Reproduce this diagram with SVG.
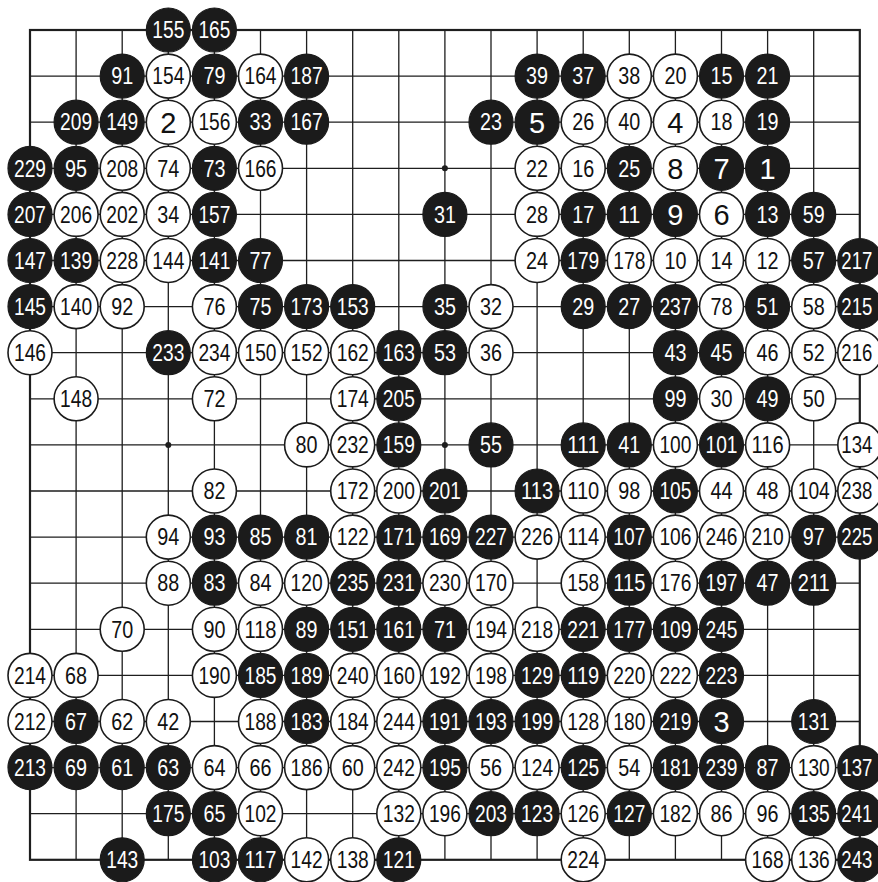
<svg xmlns="http://www.w3.org/2000/svg" width="878" height="882" viewBox="0 0 878 882">
<style>
.grid{fill:none;stroke:#1e1e1e;stroke-width:1.3}
.edge{fill:none;stroke:#1e1e1e;stroke-width:2.2}
.hoshi{fill:#1e1e1e}
text{font-family:"Liberation Sans",Arial,sans-serif;font-size:23px;text-anchor:middle}
.b circle{fill:#1b1b1b;stroke:#1b1b1b;stroke-width:1.2}
.b text{fill:#fff}
.w circle{fill:#fff;stroke:#1b1b1b;stroke-width:1.6}
.w text{fill:#111}
text.one{font-size:29px}
</style>
<rect width="878" height="882" fill="#fff"/>
<g id="board">
<path class="grid" d="M30 76.1H859.8M30 122.2H859.8M30 168.3H859.8M30 214.4H859.8M30 260.5H859.8M30 306.6H859.8M30 352.7H859.8M30 398.8H859.8M30 444.9H859.8M30 491H859.8M30 537.1H859.8M30 583.2H859.8M30 629.3H859.8M30 675.4H859.8M30 721.5H859.8M30 767.6H859.8M30 813.7H859.8M76.1 30V859.8M122.2 30V859.8M168.3 30V859.8M214.4 30V859.8M260.5 30V859.8M306.6 30V859.8M352.7 30V859.8M398.8 30V859.8M444.9 30V859.8M491 30V859.8M537.1 30V859.8M583.2 30V859.8M629.3 30V859.8M675.4 30V859.8M721.5 30V859.8M767.6 30V859.8M813.7 30V859.8"/>
<rect class="edge" x="30" y="30" width="829.8" height="829.8"/>
<circle class="hoshi" cx="444.9" cy="168.3" r="3"/>
<circle class="hoshi" cx="168.3" cy="444.9" r="3"/>
<circle class="hoshi" cx="444.9" cy="444.9" r="3"/>
</g>
<g id="stones">
<g id="m155" class="b" transform="translate(168.3,30)"><circle r="22"/><text y="8.2" textLength="32" lengthAdjust="spacingAndGlyphs">155</text></g>
<g id="m165" class="b" transform="translate(214.4,30)"><circle r="22"/><text y="8.2" textLength="32" lengthAdjust="spacingAndGlyphs">165</text></g>

<g id="m91" class="b" transform="translate(122.2,76.1)"><circle r="22"/><text y="8.2" textLength="22" lengthAdjust="spacingAndGlyphs">91</text></g>
<g id="m154" class="w" transform="translate(168.3,76.1)"><circle r="22"/><text y="8.2" textLength="32" lengthAdjust="spacingAndGlyphs">154</text></g>
<g id="m79" class="b" transform="translate(214.4,76.1)"><circle r="22"/><text y="8.2" textLength="22" lengthAdjust="spacingAndGlyphs">79</text></g>
<g id="m164" class="w" transform="translate(260.5,76.1)"><circle r="22"/><text y="8.2" textLength="32" lengthAdjust="spacingAndGlyphs">164</text></g>
<g id="m187" class="b" transform="translate(306.6,76.1)"><circle r="22"/><text y="8.2" textLength="32" lengthAdjust="spacingAndGlyphs">187</text></g>
<g id="m39" class="b" transform="translate(537.1,76.1)"><circle r="22"/><text y="8.2" textLength="22" lengthAdjust="spacingAndGlyphs">39</text></g>
<g id="m37" class="b" transform="translate(583.2,76.1)"><circle r="22"/><text y="8.2" textLength="22" lengthAdjust="spacingAndGlyphs">37</text></g>
<g id="m38" class="w" transform="translate(629.3,76.1)"><circle r="22"/><text y="8.2" textLength="22" lengthAdjust="spacingAndGlyphs">38</text></g>
<g id="m20" class="w" transform="translate(675.4,76.1)"><circle r="22"/><text y="8.2" textLength="22" lengthAdjust="spacingAndGlyphs">20</text></g>
<g id="m15" class="b" transform="translate(721.5,76.1)"><circle r="22"/><text y="8.2" textLength="22" lengthAdjust="spacingAndGlyphs">15</text></g>
<g id="m21" class="b" transform="translate(767.6,76.1)"><circle r="22"/><text y="8.2" textLength="22" lengthAdjust="spacingAndGlyphs">21</text></g>

<g id="m209" class="b" transform="translate(76.1,122.2)"><circle r="22"/><text y="8.2" textLength="32" lengthAdjust="spacingAndGlyphs">209</text></g>
<g id="m149" class="b" transform="translate(122.2,122.2)"><circle r="22"/><text y="8.2" textLength="32" lengthAdjust="spacingAndGlyphs">149</text></g>
<g id="m2" class="w" transform="translate(168.3,122.2)"><circle r="22"/><text class="one" y="10.4">2</text></g>
<g id="m156" class="w" transform="translate(214.4,122.2)"><circle r="22"/><text y="8.2" textLength="32" lengthAdjust="spacingAndGlyphs">156</text></g>
<g id="m33" class="b" transform="translate(260.5,122.2)"><circle r="22"/><text y="8.2" textLength="22" lengthAdjust="spacingAndGlyphs">33</text></g>
<g id="m167" class="b" transform="translate(306.6,122.2)"><circle r="22"/><text y="8.2" textLength="32" lengthAdjust="spacingAndGlyphs">167</text></g>
<g id="m23" class="b" transform="translate(491,122.2)"><circle r="22"/><text y="8.2" textLength="22" lengthAdjust="spacingAndGlyphs">23</text></g>
<g id="m5" class="b" transform="translate(537.1,122.2)"><circle r="22"/><text class="one" y="10.4">5</text></g>
<g id="m26" class="w" transform="translate(583.2,122.2)"><circle r="22"/><text y="8.2" textLength="22" lengthAdjust="spacingAndGlyphs">26</text></g>
<g id="m40" class="w" transform="translate(629.3,122.2)"><circle r="22"/><text y="8.2" textLength="22" lengthAdjust="spacingAndGlyphs">40</text></g>
<g id="m4" class="w" transform="translate(675.4,122.2)"><circle r="22"/><text class="one" y="10.4">4</text></g>
<g id="m18" class="w" transform="translate(721.5,122.2)"><circle r="22"/><text y="8.2" textLength="22" lengthAdjust="spacingAndGlyphs">18</text></g>
<g id="m19" class="b" transform="translate(767.6,122.2)"><circle r="22"/><text y="8.2" textLength="22" lengthAdjust="spacingAndGlyphs">19</text></g>

<g id="m229" class="b" transform="translate(30,168.3)"><circle r="22"/><text y="8.2" textLength="32" lengthAdjust="spacingAndGlyphs">229</text></g>
<g id="m95" class="b" transform="translate(76.1,168.3)"><circle r="22"/><text y="8.2" textLength="22" lengthAdjust="spacingAndGlyphs">95</text></g>
<g id="m208" class="w" transform="translate(122.2,168.3)"><circle r="22"/><text y="8.2" textLength="32" lengthAdjust="spacingAndGlyphs">208</text></g>
<g id="m74" class="w" transform="translate(168.3,168.3)"><circle r="22"/><text y="8.2" textLength="22" lengthAdjust="spacingAndGlyphs">74</text></g>
<g id="m73" class="b" transform="translate(214.4,168.3)"><circle r="22"/><text y="8.2" textLength="22" lengthAdjust="spacingAndGlyphs">73</text></g>
<g id="m166" class="w" transform="translate(260.5,168.3)"><circle r="22"/><text y="8.2" textLength="32" lengthAdjust="spacingAndGlyphs">166</text></g>
<g id="m22" class="w" transform="translate(537.1,168.3)"><circle r="22"/><text y="8.2" textLength="22" lengthAdjust="spacingAndGlyphs">22</text></g>
<g id="m16" class="w" transform="translate(583.2,168.3)"><circle r="22"/><text y="8.2" textLength="22" lengthAdjust="spacingAndGlyphs">16</text></g>
<g id="m25" class="b" transform="translate(629.3,168.3)"><circle r="22"/><text y="8.2" textLength="22" lengthAdjust="spacingAndGlyphs">25</text></g>
<g id="m8" class="w" transform="translate(675.4,168.3)"><circle r="22"/><text class="one" y="10.4">8</text></g>
<g id="m7" class="b" transform="translate(721.5,168.3)"><circle r="22"/><text class="one" y="10.4">7</text></g>
<g id="m1" class="b" transform="translate(767.6,168.3)"><circle r="22"/><text class="one" y="10.4">1</text></g>

<g id="m207" class="b" transform="translate(30,214.4)"><circle r="22"/><text y="8.2" textLength="32" lengthAdjust="spacingAndGlyphs">207</text></g>
<g id="m206" class="w" transform="translate(76.1,214.4)"><circle r="22"/><text y="8.2" textLength="32" lengthAdjust="spacingAndGlyphs">206</text></g>
<g id="m202" class="w" transform="translate(122.2,214.4)"><circle r="22"/><text y="8.2" textLength="32" lengthAdjust="spacingAndGlyphs">202</text></g>
<g id="m34" class="w" transform="translate(168.3,214.4)"><circle r="22"/><text y="8.2" textLength="22" lengthAdjust="spacingAndGlyphs">34</text></g>
<g id="m157" class="b" transform="translate(214.4,214.4)"><circle r="22"/><text y="8.2" textLength="32" lengthAdjust="spacingAndGlyphs">157</text></g>
<g id="m31" class="b" transform="translate(444.9,214.4)"><circle r="22"/><text y="8.2" textLength="22" lengthAdjust="spacingAndGlyphs">31</text></g>
<g id="m28" class="w" transform="translate(537.1,214.4)"><circle r="22"/><text y="8.2" textLength="22" lengthAdjust="spacingAndGlyphs">28</text></g>
<g id="m17" class="b" transform="translate(583.2,214.4)"><circle r="22"/><text y="8.2" textLength="22" lengthAdjust="spacingAndGlyphs">17</text></g>
<g id="m11" class="b" transform="translate(629.3,214.4)"><circle r="22"/><text y="8.2" textLength="22" lengthAdjust="spacingAndGlyphs">11</text></g>
<g id="m9" class="b" transform="translate(675.4,214.4)"><circle r="22"/><text class="one" y="10.4">9</text></g>
<g id="m6" class="w" transform="translate(721.5,214.4)"><circle r="22"/><text class="one" y="10.4">6</text></g>
<g id="m13" class="b" transform="translate(767.6,214.4)"><circle r="22"/><text y="8.2" textLength="22" lengthAdjust="spacingAndGlyphs">13</text></g>
<g id="m59" class="b" transform="translate(813.7,214.4)"><circle r="22"/><text y="8.2" textLength="22" lengthAdjust="spacingAndGlyphs">59</text></g>

<g id="m147" class="b" transform="translate(30,260.5)"><circle r="22"/><text y="8.2" textLength="32" lengthAdjust="spacingAndGlyphs">147</text></g>
<g id="m139" class="b" transform="translate(76.1,260.5)"><circle r="22"/><text y="8.2" textLength="32" lengthAdjust="spacingAndGlyphs">139</text></g>
<g id="m228" class="w" transform="translate(122.2,260.5)"><circle r="22"/><text y="8.2" textLength="32" lengthAdjust="spacingAndGlyphs">228</text></g>
<g id="m144" class="w" transform="translate(168.3,260.5)"><circle r="22"/><text y="8.2" textLength="32" lengthAdjust="spacingAndGlyphs">144</text></g>
<g id="m141" class="b" transform="translate(214.4,260.5)"><circle r="22"/><text y="8.2" textLength="32" lengthAdjust="spacingAndGlyphs">141</text></g>
<g id="m77" class="b" transform="translate(260.5,260.5)"><circle r="22"/><text y="8.2" textLength="22" lengthAdjust="spacingAndGlyphs">77</text></g>
<g id="m24" class="w" transform="translate(537.1,260.5)"><circle r="22"/><text y="8.2" textLength="22" lengthAdjust="spacingAndGlyphs">24</text></g>
<g id="m179" class="b" transform="translate(583.2,260.5)"><circle r="22"/><text y="8.2" textLength="32" lengthAdjust="spacingAndGlyphs">179</text></g>
<g id="m178" class="w" transform="translate(629.3,260.5)"><circle r="22"/><text y="8.2" textLength="32" lengthAdjust="spacingAndGlyphs">178</text></g>
<g id="m10" class="w" transform="translate(675.4,260.5)"><circle r="22"/><text y="8.2" textLength="22" lengthAdjust="spacingAndGlyphs">10</text></g>
<g id="m14" class="w" transform="translate(721.5,260.5)"><circle r="22"/><text y="8.2" textLength="22" lengthAdjust="spacingAndGlyphs">14</text></g>
<g id="m12" class="w" transform="translate(767.6,260.5)"><circle r="22"/><text y="8.2" textLength="22" lengthAdjust="spacingAndGlyphs">12</text></g>
<g id="m57" class="b" transform="translate(813.7,260.5)"><circle r="22"/><text y="8.2" textLength="22" lengthAdjust="spacingAndGlyphs">57</text></g>
<g id="m217" class="b" transform="translate(859.8,260.5)"><circle r="22"/><text x="-3" y="8.2" textLength="31" lengthAdjust="spacingAndGlyphs">217</text></g>

<g id="m145" class="b" transform="translate(30,306.6)"><circle r="22"/><text y="8.2" textLength="32" lengthAdjust="spacingAndGlyphs">145</text></g>
<g id="m140" class="w" transform="translate(76.1,306.6)"><circle r="22"/><text y="8.2" textLength="32" lengthAdjust="spacingAndGlyphs">140</text></g>
<g id="m92" class="w" transform="translate(122.2,306.6)"><circle r="22"/><text y="8.2" textLength="22" lengthAdjust="spacingAndGlyphs">92</text></g>
<g id="m76" class="w" transform="translate(214.4,306.6)"><circle r="22"/><text y="8.2" textLength="22" lengthAdjust="spacingAndGlyphs">76</text></g>
<g id="m75" class="b" transform="translate(260.5,306.6)"><circle r="22"/><text y="8.2" textLength="22" lengthAdjust="spacingAndGlyphs">75</text></g>
<g id="m173" class="b" transform="translate(306.6,306.6)"><circle r="22"/><text y="8.2" textLength="32" lengthAdjust="spacingAndGlyphs">173</text></g>
<g id="m153" class="b" transform="translate(352.7,306.6)"><circle r="22"/><text y="8.2" textLength="32" lengthAdjust="spacingAndGlyphs">153</text></g>
<g id="m35" class="b" transform="translate(444.9,306.6)"><circle r="22"/><text y="8.2" textLength="22" lengthAdjust="spacingAndGlyphs">35</text></g>
<g id="m32" class="w" transform="translate(491,306.6)"><circle r="22"/><text y="8.2" textLength="22" lengthAdjust="spacingAndGlyphs">32</text></g>
<g id="m29" class="b" transform="translate(583.2,306.6)"><circle r="22"/><text y="8.2" textLength="22" lengthAdjust="spacingAndGlyphs">29</text></g>
<g id="m27" class="b" transform="translate(629.3,306.6)"><circle r="22"/><text y="8.2" textLength="22" lengthAdjust="spacingAndGlyphs">27</text></g>
<g id="m237" class="b" transform="translate(675.4,306.6)"><circle r="22"/><text y="8.2" textLength="32" lengthAdjust="spacingAndGlyphs">237</text></g>
<g id="m78" class="w" transform="translate(721.5,306.6)"><circle r="22"/><text y="8.2" textLength="22" lengthAdjust="spacingAndGlyphs">78</text></g>
<g id="m51" class="b" transform="translate(767.6,306.6)"><circle r="22"/><text y="8.2" textLength="22" lengthAdjust="spacingAndGlyphs">51</text></g>
<g id="m58" class="w" transform="translate(813.7,306.6)"><circle r="22"/><text y="8.2" textLength="22" lengthAdjust="spacingAndGlyphs">58</text></g>
<g id="m215" class="b" transform="translate(859.8,306.6)"><circle r="22"/><text x="-3" y="8.2" textLength="31" lengthAdjust="spacingAndGlyphs">215</text></g>

<g id="m146" class="w" transform="translate(30,352.7)"><circle r="22"/><text y="8.2" textLength="32" lengthAdjust="spacingAndGlyphs">146</text></g>
<g id="m233" class="b" transform="translate(168.3,352.7)"><circle r="22"/><text y="8.2" textLength="32" lengthAdjust="spacingAndGlyphs">233</text></g>
<g id="m234" class="w" transform="translate(214.4,352.7)"><circle r="22"/><text y="8.2" textLength="32" lengthAdjust="spacingAndGlyphs">234</text></g>
<g id="m150" class="w" transform="translate(260.5,352.7)"><circle r="22"/><text y="8.2" textLength="32" lengthAdjust="spacingAndGlyphs">150</text></g>
<g id="m152" class="w" transform="translate(306.6,352.7)"><circle r="22"/><text y="8.2" textLength="32" lengthAdjust="spacingAndGlyphs">152</text></g>
<g id="m162" class="w" transform="translate(352.7,352.7)"><circle r="22"/><text y="8.2" textLength="32" lengthAdjust="spacingAndGlyphs">162</text></g>
<g id="m163" class="b" transform="translate(398.8,352.7)"><circle r="22"/><text y="8.2" textLength="32" lengthAdjust="spacingAndGlyphs">163</text></g>
<g id="m53" class="b" transform="translate(444.9,352.7)"><circle r="22"/><text y="8.2" textLength="22" lengthAdjust="spacingAndGlyphs">53</text></g>
<g id="m36" class="w" transform="translate(491,352.7)"><circle r="22"/><text y="8.2" textLength="22" lengthAdjust="spacingAndGlyphs">36</text></g>
<g id="m43" class="b" transform="translate(675.4,352.7)"><circle r="22"/><text y="8.2" textLength="22" lengthAdjust="spacingAndGlyphs">43</text></g>
<g id="m45" class="b" transform="translate(721.5,352.7)"><circle r="22"/><text y="8.2" textLength="22" lengthAdjust="spacingAndGlyphs">45</text></g>
<g id="m46" class="w" transform="translate(767.6,352.7)"><circle r="22"/><text y="8.2" textLength="22" lengthAdjust="spacingAndGlyphs">46</text></g>
<g id="m52" class="w" transform="translate(813.7,352.7)"><circle r="22"/><text y="8.2" textLength="22" lengthAdjust="spacingAndGlyphs">52</text></g>
<g id="m216" class="w" transform="translate(859.8,352.7)"><circle r="22"/><text x="-3" y="8.2" textLength="31" lengthAdjust="spacingAndGlyphs">216</text></g>

<g id="m148" class="w" transform="translate(76.1,398.8)"><circle r="22"/><text y="8.2" textLength="32" lengthAdjust="spacingAndGlyphs">148</text></g>
<g id="m72" class="w" transform="translate(214.4,398.8)"><circle r="22"/><text y="8.2" textLength="22" lengthAdjust="spacingAndGlyphs">72</text></g>
<g id="m174" class="w" transform="translate(352.7,398.8)"><circle r="22"/><text y="8.2" textLength="32" lengthAdjust="spacingAndGlyphs">174</text></g>
<g id="m205" class="b" transform="translate(398.8,398.8)"><circle r="22"/><text y="8.2" textLength="32" lengthAdjust="spacingAndGlyphs">205</text></g>
<g id="m99" class="b" transform="translate(675.4,398.8)"><circle r="22"/><text y="8.2" textLength="22" lengthAdjust="spacingAndGlyphs">99</text></g>
<g id="m30" class="w" transform="translate(721.5,398.8)"><circle r="22"/><text y="8.2" textLength="22" lengthAdjust="spacingAndGlyphs">30</text></g>
<g id="m49" class="b" transform="translate(767.6,398.8)"><circle r="22"/><text y="8.2" textLength="22" lengthAdjust="spacingAndGlyphs">49</text></g>
<g id="m50" class="w" transform="translate(813.7,398.8)"><circle r="22"/><text y="8.2" textLength="22" lengthAdjust="spacingAndGlyphs">50</text></g>

<g id="m80" class="w" transform="translate(306.6,444.9)"><circle r="22"/><text y="8.2" textLength="22" lengthAdjust="spacingAndGlyphs">80</text></g>
<g id="m232" class="w" transform="translate(352.7,444.9)"><circle r="22"/><text y="8.2" textLength="32" lengthAdjust="spacingAndGlyphs">232</text></g>
<g id="m159" class="b" transform="translate(398.8,444.9)"><circle r="22"/><text y="8.2" textLength="32" lengthAdjust="spacingAndGlyphs">159</text></g>
<g id="m55" class="b" transform="translate(491,444.9)"><circle r="22"/><text y="8.2" textLength="22" lengthAdjust="spacingAndGlyphs">55</text></g>
<g id="m111" class="b" transform="translate(583.2,444.9)"><circle r="22"/><text y="8.2" textLength="32" lengthAdjust="spacingAndGlyphs">111</text></g>
<g id="m41" class="b" transform="translate(629.3,444.9)"><circle r="22"/><text y="8.2" textLength="22" lengthAdjust="spacingAndGlyphs">41</text></g>
<g id="m100" class="w" transform="translate(675.4,444.9)"><circle r="22"/><text y="8.2" textLength="32" lengthAdjust="spacingAndGlyphs">100</text></g>
<g id="m101" class="b" transform="translate(721.5,444.9)"><circle r="22"/><text y="8.2" textLength="32" lengthAdjust="spacingAndGlyphs">101</text></g>
<g id="m116" class="w" transform="translate(767.6,444.9)"><circle r="22"/><text y="8.2" textLength="32" lengthAdjust="spacingAndGlyphs">116</text></g>
<g id="m134" class="w" transform="translate(859.8,444.9)"><circle r="22"/><text x="-3" y="8.2" textLength="31" lengthAdjust="spacingAndGlyphs">134</text></g>

<g id="m82" class="w" transform="translate(214.4,491)"><circle r="22"/><text y="8.2" textLength="22" lengthAdjust="spacingAndGlyphs">82</text></g>
<g id="m172" class="w" transform="translate(352.7,491)"><circle r="22"/><text y="8.2" textLength="32" lengthAdjust="spacingAndGlyphs">172</text></g>
<g id="m200" class="w" transform="translate(398.8,491)"><circle r="22"/><text y="8.2" textLength="32" lengthAdjust="spacingAndGlyphs">200</text></g>
<g id="m201" class="b" transform="translate(444.9,491)"><circle r="22"/><text y="8.2" textLength="32" lengthAdjust="spacingAndGlyphs">201</text></g>
<g id="m113" class="b" transform="translate(537.1,491)"><circle r="22"/><text y="8.2" textLength="32" lengthAdjust="spacingAndGlyphs">113</text></g>
<g id="m110" class="w" transform="translate(583.2,491)"><circle r="22"/><text y="8.2" textLength="32" lengthAdjust="spacingAndGlyphs">110</text></g>
<g id="m98" class="w" transform="translate(629.3,491)"><circle r="22"/><text y="8.2" textLength="22" lengthAdjust="spacingAndGlyphs">98</text></g>
<g id="m105" class="b" transform="translate(675.4,491)"><circle r="22"/><text y="8.2" textLength="32" lengthAdjust="spacingAndGlyphs">105</text></g>
<g id="m44" class="w" transform="translate(721.5,491)"><circle r="22"/><text y="8.2" textLength="22" lengthAdjust="spacingAndGlyphs">44</text></g>
<g id="m48" class="w" transform="translate(767.6,491)"><circle r="22"/><text y="8.2" textLength="22" lengthAdjust="spacingAndGlyphs">48</text></g>
<g id="m104" class="w" transform="translate(813.7,491)"><circle r="22"/><text y="8.2" textLength="32" lengthAdjust="spacingAndGlyphs">104</text></g>
<g id="m238" class="w" transform="translate(859.8,491)"><circle r="22"/><text x="-3" y="8.2" textLength="31" lengthAdjust="spacingAndGlyphs">238</text></g>

<g id="m94" class="w" transform="translate(168.3,537.1)"><circle r="22"/><text y="8.2" textLength="22" lengthAdjust="spacingAndGlyphs">94</text></g>
<g id="m93" class="b" transform="translate(214.4,537.1)"><circle r="22"/><text y="8.2" textLength="22" lengthAdjust="spacingAndGlyphs">93</text></g>
<g id="m85" class="b" transform="translate(260.5,537.1)"><circle r="22"/><text y="8.2" textLength="22" lengthAdjust="spacingAndGlyphs">85</text></g>
<g id="m81" class="b" transform="translate(306.6,537.1)"><circle r="22"/><text y="8.2" textLength="22" lengthAdjust="spacingAndGlyphs">81</text></g>
<g id="m122" class="w" transform="translate(352.7,537.1)"><circle r="22"/><text y="8.2" textLength="32" lengthAdjust="spacingAndGlyphs">122</text></g>
<g id="m171" class="b" transform="translate(398.8,537.1)"><circle r="22"/><text y="8.2" textLength="32" lengthAdjust="spacingAndGlyphs">171</text></g>
<g id="m169" class="b" transform="translate(444.9,537.1)"><circle r="22"/><text y="8.2" textLength="32" lengthAdjust="spacingAndGlyphs">169</text></g>
<g id="m227" class="b" transform="translate(491,537.1)"><circle r="22"/><text y="8.2" textLength="32" lengthAdjust="spacingAndGlyphs">227</text></g>
<g id="m226" class="w" transform="translate(537.1,537.1)"><circle r="22"/><text y="8.2" textLength="32" lengthAdjust="spacingAndGlyphs">226</text></g>
<g id="m114" class="w" transform="translate(583.2,537.1)"><circle r="22"/><text y="8.2" textLength="32" lengthAdjust="spacingAndGlyphs">114</text></g>
<g id="m107" class="b" transform="translate(629.3,537.1)"><circle r="22"/><text y="8.2" textLength="32" lengthAdjust="spacingAndGlyphs">107</text></g>
<g id="m106" class="w" transform="translate(675.4,537.1)"><circle r="22"/><text y="8.2" textLength="32" lengthAdjust="spacingAndGlyphs">106</text></g>
<g id="m246" class="w" transform="translate(721.5,537.1)"><circle r="22"/><text y="8.2" textLength="32" lengthAdjust="spacingAndGlyphs">246</text></g>
<g id="m210" class="w" transform="translate(767.6,537.1)"><circle r="22"/><text y="8.2" textLength="32" lengthAdjust="spacingAndGlyphs">210</text></g>
<g id="m97" class="b" transform="translate(813.7,537.1)"><circle r="22"/><text y="8.2" textLength="22" lengthAdjust="spacingAndGlyphs">97</text></g>
<g id="m225" class="b" transform="translate(859.8,537.1)"><circle r="22"/><text x="-3" y="8.2" textLength="31" lengthAdjust="spacingAndGlyphs">225</text></g>

<g id="m88" class="w" transform="translate(168.3,583.2)"><circle r="22"/><text y="8.2" textLength="22" lengthAdjust="spacingAndGlyphs">88</text></g>
<g id="m83" class="b" transform="translate(214.4,583.2)"><circle r="22"/><text y="8.2" textLength="22" lengthAdjust="spacingAndGlyphs">83</text></g>
<g id="m84" class="w" transform="translate(260.5,583.2)"><circle r="22"/><text y="8.2" textLength="22" lengthAdjust="spacingAndGlyphs">84</text></g>
<g id="m120" class="w" transform="translate(306.6,583.2)"><circle r="22"/><text y="8.2" textLength="32" lengthAdjust="spacingAndGlyphs">120</text></g>
<g id="m235" class="b" transform="translate(352.7,583.2)"><circle r="22"/><text y="8.2" textLength="32" lengthAdjust="spacingAndGlyphs">235</text></g>
<g id="m231" class="b" transform="translate(398.8,583.2)"><circle r="22"/><text y="8.2" textLength="32" lengthAdjust="spacingAndGlyphs">231</text></g>
<g id="m230" class="w" transform="translate(444.9,583.2)"><circle r="22"/><text y="8.2" textLength="32" lengthAdjust="spacingAndGlyphs">230</text></g>
<g id="m170" class="w" transform="translate(491,583.2)"><circle r="22"/><text y="8.2" textLength="32" lengthAdjust="spacingAndGlyphs">170</text></g>
<g id="m158" class="w" transform="translate(583.2,583.2)"><circle r="22"/><text y="8.2" textLength="32" lengthAdjust="spacingAndGlyphs">158</text></g>
<g id="m115" class="b" transform="translate(629.3,583.2)"><circle r="22"/><text y="8.2" textLength="32" lengthAdjust="spacingAndGlyphs">115</text></g>
<g id="m176" class="w" transform="translate(675.4,583.2)"><circle r="22"/><text y="8.2" textLength="32" lengthAdjust="spacingAndGlyphs">176</text></g>
<g id="m197" class="b" transform="translate(721.5,583.2)"><circle r="22"/><text y="8.2" textLength="32" lengthAdjust="spacingAndGlyphs">197</text></g>
<g id="m47" class="b" transform="translate(767.6,583.2)"><circle r="22"/><text y="8.2" textLength="22" lengthAdjust="spacingAndGlyphs">47</text></g>
<g id="m211" class="b" transform="translate(813.7,583.2)"><circle r="22"/><text y="8.2" textLength="32" lengthAdjust="spacingAndGlyphs">211</text></g>

<g id="m70" class="w" transform="translate(122.2,629.3)"><circle r="22"/><text y="8.2" textLength="22" lengthAdjust="spacingAndGlyphs">70</text></g>
<g id="m90" class="w" transform="translate(214.4,629.3)"><circle r="22"/><text y="8.2" textLength="22" lengthAdjust="spacingAndGlyphs">90</text></g>
<g id="m118" class="w" transform="translate(260.5,629.3)"><circle r="22"/><text y="8.2" textLength="32" lengthAdjust="spacingAndGlyphs">118</text></g>
<g id="m89" class="b" transform="translate(306.6,629.3)"><circle r="22"/><text y="8.2" textLength="22" lengthAdjust="spacingAndGlyphs">89</text></g>
<g id="m151" class="b" transform="translate(352.7,629.3)"><circle r="22"/><text y="8.2" textLength="32" lengthAdjust="spacingAndGlyphs">151</text></g>
<g id="m161" class="b" transform="translate(398.8,629.3)"><circle r="22"/><text y="8.2" textLength="32" lengthAdjust="spacingAndGlyphs">161</text></g>
<g id="m71" class="b" transform="translate(444.9,629.3)"><circle r="22"/><text y="8.2" textLength="22" lengthAdjust="spacingAndGlyphs">71</text></g>
<g id="m194" class="w" transform="translate(491,629.3)"><circle r="22"/><text y="8.2" textLength="32" lengthAdjust="spacingAndGlyphs">194</text></g>
<g id="m218" class="w" transform="translate(537.1,629.3)"><circle r="22"/><text y="8.2" textLength="32" lengthAdjust="spacingAndGlyphs">218</text></g>
<g id="m221" class="b" transform="translate(583.2,629.3)"><circle r="22"/><text y="8.2" textLength="32" lengthAdjust="spacingAndGlyphs">221</text></g>
<g id="m177" class="b" transform="translate(629.3,629.3)"><circle r="22"/><text y="8.2" textLength="32" lengthAdjust="spacingAndGlyphs">177</text></g>
<g id="m109" class="b" transform="translate(675.4,629.3)"><circle r="22"/><text y="8.2" textLength="32" lengthAdjust="spacingAndGlyphs">109</text></g>
<g id="m245" class="b" transform="translate(721.5,629.3)"><circle r="22"/><text y="8.2" textLength="32" lengthAdjust="spacingAndGlyphs">245</text></g>

<g id="m214" class="w" transform="translate(30,675.4)"><circle r="22"/><text y="8.2" textLength="32" lengthAdjust="spacingAndGlyphs">214</text></g>
<g id="m68" class="w" transform="translate(76.1,675.4)"><circle r="22"/><text y="8.2" textLength="22" lengthAdjust="spacingAndGlyphs">68</text></g>
<g id="m190" class="w" transform="translate(214.4,675.4)"><circle r="22"/><text y="8.2" textLength="32" lengthAdjust="spacingAndGlyphs">190</text></g>
<g id="m185" class="b" transform="translate(260.5,675.4)"><circle r="22"/><text y="8.2" textLength="32" lengthAdjust="spacingAndGlyphs">185</text></g>
<g id="m189" class="b" transform="translate(306.6,675.4)"><circle r="22"/><text y="8.2" textLength="32" lengthAdjust="spacingAndGlyphs">189</text></g>
<g id="m240" class="w" transform="translate(352.7,675.4)"><circle r="22"/><text y="8.2" textLength="32" lengthAdjust="spacingAndGlyphs">240</text></g>
<g id="m160" class="w" transform="translate(398.8,675.4)"><circle r="22"/><text y="8.2" textLength="32" lengthAdjust="spacingAndGlyphs">160</text></g>
<g id="m192" class="w" transform="translate(444.9,675.4)"><circle r="22"/><text y="8.2" textLength="32" lengthAdjust="spacingAndGlyphs">192</text></g>
<g id="m198" class="w" transform="translate(491,675.4)"><circle r="22"/><text y="8.2" textLength="32" lengthAdjust="spacingAndGlyphs">198</text></g>
<g id="m129" class="b" transform="translate(537.1,675.4)"><circle r="22"/><text y="8.2" textLength="32" lengthAdjust="spacingAndGlyphs">129</text></g>
<g id="m119" class="b" transform="translate(583.2,675.4)"><circle r="22"/><text y="8.2" textLength="32" lengthAdjust="spacingAndGlyphs">119</text></g>
<g id="m220" class="w" transform="translate(629.3,675.4)"><circle r="22"/><text y="8.2" textLength="32" lengthAdjust="spacingAndGlyphs">220</text></g>
<g id="m222" class="w" transform="translate(675.4,675.4)"><circle r="22"/><text y="8.2" textLength="32" lengthAdjust="spacingAndGlyphs">222</text></g>
<g id="m223" class="b" transform="translate(721.5,675.4)"><circle r="22"/><text y="8.2" textLength="32" lengthAdjust="spacingAndGlyphs">223</text></g>

<g id="m212" class="w" transform="translate(30,721.5)"><circle r="22"/><text y="8.2" textLength="32" lengthAdjust="spacingAndGlyphs">212</text></g>
<g id="m67" class="b" transform="translate(76.1,721.5)"><circle r="22"/><text y="8.2" textLength="22" lengthAdjust="spacingAndGlyphs">67</text></g>
<g id="m62" class="w" transform="translate(122.2,721.5)"><circle r="22"/><text y="8.2" textLength="22" lengthAdjust="spacingAndGlyphs">62</text></g>
<g id="m42" class="w" transform="translate(168.3,721.5)"><circle r="22"/><text y="8.2" textLength="22" lengthAdjust="spacingAndGlyphs">42</text></g>
<g id="m188" class="w" transform="translate(260.5,721.5)"><circle r="22"/><text y="8.2" textLength="32" lengthAdjust="spacingAndGlyphs">188</text></g>
<g id="m183" class="b" transform="translate(306.6,721.5)"><circle r="22"/><text y="8.2" textLength="32" lengthAdjust="spacingAndGlyphs">183</text></g>
<g id="m184" class="w" transform="translate(352.7,721.5)"><circle r="22"/><text y="8.2" textLength="32" lengthAdjust="spacingAndGlyphs">184</text></g>
<g id="m244" class="w" transform="translate(398.8,721.5)"><circle r="22"/><text y="8.2" textLength="32" lengthAdjust="spacingAndGlyphs">244</text></g>
<g id="m191" class="b" transform="translate(444.9,721.5)"><circle r="22"/><text y="8.2" textLength="32" lengthAdjust="spacingAndGlyphs">191</text></g>
<g id="m193" class="b" transform="translate(491,721.5)"><circle r="22"/><text y="8.2" textLength="32" lengthAdjust="spacingAndGlyphs">193</text></g>
<g id="m199" class="b" transform="translate(537.1,721.5)"><circle r="22"/><text y="8.2" textLength="32" lengthAdjust="spacingAndGlyphs">199</text></g>
<g id="m128" class="w" transform="translate(583.2,721.5)"><circle r="22"/><text y="8.2" textLength="32" lengthAdjust="spacingAndGlyphs">128</text></g>
<g id="m180" class="w" transform="translate(629.3,721.5)"><circle r="22"/><text y="8.2" textLength="32" lengthAdjust="spacingAndGlyphs">180</text></g>
<g id="m219" class="b" transform="translate(675.4,721.5)"><circle r="22"/><text y="8.2" textLength="32" lengthAdjust="spacingAndGlyphs">219</text></g>
<g id="m3" class="b" transform="translate(721.5,721.5)"><circle r="22"/><text class="one" y="10.4">3</text></g>
<g id="m131" class="b" transform="translate(813.7,721.5)"><circle r="22"/><text y="8.2" textLength="32" lengthAdjust="spacingAndGlyphs">131</text></g>

<g id="m213" class="b" transform="translate(30,767.6)"><circle r="22"/><text y="8.2" textLength="32" lengthAdjust="spacingAndGlyphs">213</text></g>
<g id="m69" class="b" transform="translate(76.1,767.6)"><circle r="22"/><text y="8.2" textLength="22" lengthAdjust="spacingAndGlyphs">69</text></g>
<g id="m61" class="b" transform="translate(122.2,767.6)"><circle r="22"/><text y="8.2" textLength="22" lengthAdjust="spacingAndGlyphs">61</text></g>
<g id="m63" class="b" transform="translate(168.3,767.6)"><circle r="22"/><text y="8.2" textLength="22" lengthAdjust="spacingAndGlyphs">63</text></g>
<g id="m64" class="w" transform="translate(214.4,767.6)"><circle r="22"/><text y="8.2" textLength="22" lengthAdjust="spacingAndGlyphs">64</text></g>
<g id="m66" class="w" transform="translate(260.5,767.6)"><circle r="22"/><text y="8.2" textLength="22" lengthAdjust="spacingAndGlyphs">66</text></g>
<g id="m186" class="w" transform="translate(306.6,767.6)"><circle r="22"/><text y="8.2" textLength="32" lengthAdjust="spacingAndGlyphs">186</text></g>
<g id="m60" class="w" transform="translate(352.7,767.6)"><circle r="22"/><text y="8.2" textLength="22" lengthAdjust="spacingAndGlyphs">60</text></g>
<g id="m242" class="w" transform="translate(398.8,767.6)"><circle r="22"/><text y="8.2" textLength="32" lengthAdjust="spacingAndGlyphs">242</text></g>
<g id="m195" class="b" transform="translate(444.9,767.6)"><circle r="22"/><text y="8.2" textLength="32" lengthAdjust="spacingAndGlyphs">195</text></g>
<g id="m56" class="w" transform="translate(491,767.6)"><circle r="22"/><text y="8.2" textLength="22" lengthAdjust="spacingAndGlyphs">56</text></g>
<g id="m124" class="w" transform="translate(537.1,767.6)"><circle r="22"/><text y="8.2" textLength="32" lengthAdjust="spacingAndGlyphs">124</text></g>
<g id="m125" class="b" transform="translate(583.2,767.6)"><circle r="22"/><text y="8.2" textLength="32" lengthAdjust="spacingAndGlyphs">125</text></g>
<g id="m54" class="w" transform="translate(629.3,767.6)"><circle r="22"/><text y="8.2" textLength="22" lengthAdjust="spacingAndGlyphs">54</text></g>
<g id="m181" class="b" transform="translate(675.4,767.6)"><circle r="22"/><text y="8.2" textLength="32" lengthAdjust="spacingAndGlyphs">181</text></g>
<g id="m239" class="b" transform="translate(721.5,767.6)"><circle r="22"/><text y="8.2" textLength="32" lengthAdjust="spacingAndGlyphs">239</text></g>
<g id="m87" class="b" transform="translate(767.6,767.6)"><circle r="22"/><text y="8.2" textLength="22" lengthAdjust="spacingAndGlyphs">87</text></g>
<g id="m130" class="w" transform="translate(813.7,767.6)"><circle r="22"/><text y="8.2" textLength="32" lengthAdjust="spacingAndGlyphs">130</text></g>
<g id="m137" class="b" transform="translate(859.8,767.6)"><circle r="22"/><text x="-3" y="8.2" textLength="31" lengthAdjust="spacingAndGlyphs">137</text></g>

<g id="m175" class="b" transform="translate(168.3,813.7)"><circle r="22"/><text y="8.2" textLength="32" lengthAdjust="spacingAndGlyphs">175</text></g>
<g id="m65" class="b" transform="translate(214.4,813.7)"><circle r="22"/><text y="8.2" textLength="22" lengthAdjust="spacingAndGlyphs">65</text></g>
<g id="m102" class="w" transform="translate(260.5,813.7)"><circle r="22"/><text y="8.2" textLength="32" lengthAdjust="spacingAndGlyphs">102</text></g>
<g id="m132" class="w" transform="translate(398.8,813.7)"><circle r="22"/><text y="8.2" textLength="32" lengthAdjust="spacingAndGlyphs">132</text></g>
<g id="m196" class="w" transform="translate(444.9,813.7)"><circle r="22"/><text y="8.2" textLength="32" lengthAdjust="spacingAndGlyphs">196</text></g>
<g id="m203" class="b" transform="translate(491,813.7)"><circle r="22"/><text y="8.2" textLength="32" lengthAdjust="spacingAndGlyphs">203</text></g>
<g id="m123" class="b" transform="translate(537.1,813.7)"><circle r="22"/><text y="8.2" textLength="32" lengthAdjust="spacingAndGlyphs">123</text></g>
<g id="m126" class="w" transform="translate(583.2,813.7)"><circle r="22"/><text y="8.2" textLength="32" lengthAdjust="spacingAndGlyphs">126</text></g>
<g id="m127" class="b" transform="translate(629.3,813.7)"><circle r="22"/><text y="8.2" textLength="32" lengthAdjust="spacingAndGlyphs">127</text></g>
<g id="m182" class="w" transform="translate(675.4,813.7)"><circle r="22"/><text y="8.2" textLength="32" lengthAdjust="spacingAndGlyphs">182</text></g>
<g id="m86" class="w" transform="translate(721.5,813.7)"><circle r="22"/><text y="8.2" textLength="22" lengthAdjust="spacingAndGlyphs">86</text></g>
<g id="m96" class="w" transform="translate(767.6,813.7)"><circle r="22"/><text y="8.2" textLength="22" lengthAdjust="spacingAndGlyphs">96</text></g>
<g id="m135" class="b" transform="translate(813.7,813.7)"><circle r="22"/><text y="8.2" textLength="32" lengthAdjust="spacingAndGlyphs">135</text></g>
<g id="m241" class="b" transform="translate(859.8,813.7)"><circle r="22"/><text x="-3" y="8.2" textLength="31" lengthAdjust="spacingAndGlyphs">241</text></g>

<g id="m143" class="b" transform="translate(122.2,859.8)"><circle r="22"/><text y="8.2" textLength="32" lengthAdjust="spacingAndGlyphs">143</text></g>
<g id="m103" class="b" transform="translate(214.4,859.8)"><circle r="22"/><text y="8.2" textLength="32" lengthAdjust="spacingAndGlyphs">103</text></g>
<g id="m117" class="b" transform="translate(260.5,859.8)"><circle r="22"/><text y="8.2" textLength="32" lengthAdjust="spacingAndGlyphs">117</text></g>
<g id="m142" class="w" transform="translate(306.6,859.8)"><circle r="22"/><text y="8.2" textLength="32" lengthAdjust="spacingAndGlyphs">142</text></g>
<g id="m138" class="w" transform="translate(352.7,859.8)"><circle r="22"/><text y="8.2" textLength="32" lengthAdjust="spacingAndGlyphs">138</text></g>
<g id="m121" class="b" transform="translate(398.8,859.8)"><circle r="22"/><text y="8.2" textLength="32" lengthAdjust="spacingAndGlyphs">121</text></g>
<g id="m224" class="w" transform="translate(583.2,859.8)"><circle r="22"/><text y="8.2" textLength="32" lengthAdjust="spacingAndGlyphs">224</text></g>
<g id="m168" class="w" transform="translate(767.6,859.8)"><circle r="22"/><text y="8.2" textLength="32" lengthAdjust="spacingAndGlyphs">168</text></g>
<g id="m136" class="w" transform="translate(813.7,859.8)"><circle r="22"/><text y="8.2" textLength="32" lengthAdjust="spacingAndGlyphs">136</text></g>
<g id="m243" class="b" transform="translate(859.8,859.8)"><circle r="22"/><text x="-3" y="8.2" textLength="31" lengthAdjust="spacingAndGlyphs">243</text></g>
</g>
</svg>
